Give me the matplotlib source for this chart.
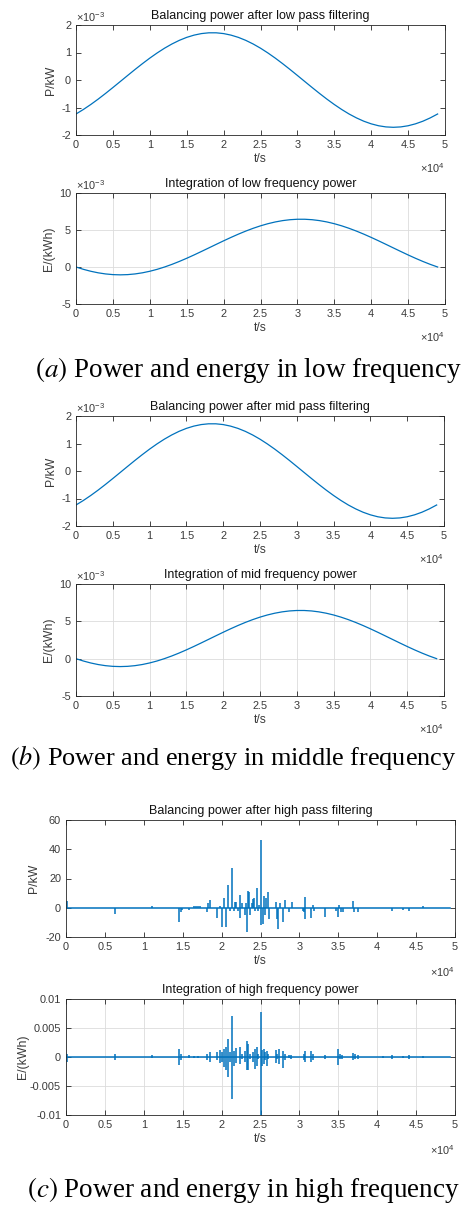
import numpy as np
import matplotlib
matplotlib.use("Agg")
import matplotlib.pyplot as plt
from matplotlib.ticker import FuncFormatter

plt.rcParams['font.family'] = ['Liberation Sans', 'DejaVu Sans']
plt.rcParams['axes.unicode_minus'] = False
plt.rcParams['mathtext.fontset'] = 'custom'
plt.rcParams['mathtext.rm'] = 'Liberation Sans'
plt.rcParams['mathtext.it'] = 'Liberation Sans:italic'

# ---------------- data ----------------
t_smooth = [0, 1000, 2000, 3000, 4000, 5000, 6000, 7000, 8000, 9000, 10000,
            11000, 12000, 13000, 14000, 15000, 16000, 17000, 18000, 19000, 20000,
            21000, 22000, 23000, 24000, 25000, 26000, 27000, 28000, 29000, 30000,
            31000, 32000, 33000, 34000, 35000, 36000, 37000, 38000, 39000, 40000,
            41000, 42000, 43000, 44000, 45000, 46000, 47000, 48000, 49000]

# power after low / mid pass filtering (x1e-3 kW)
p_low = [-1.236, -1.072, -0.891, -0.696, -0.489, -0.274, -0.055, 0.165, 0.383, 0.594,
         0.796, 0.984, 1.157, 1.310, 1.442, 1.550, 1.632, 1.688, 1.716, 1.716,
         1.688, 1.632, 1.550, 1.442, 1.310, 1.157, 0.984, 0.796, 0.594, 0.383,
         0.165, -0.055, -0.274, -0.489, -0.696, -0.891, -1.072, -1.236, -1.378, -1.499,
         -1.594, -1.664, -1.706, -1.720, -1.706, -1.664, -1.594, -1.499, -1.378, -1.236]
p_mid = list(p_low)

# integrated energy (x1e-3 kWh)
e_low = [0.000, -0.314, -0.576, -0.785, -0.937, -1.029, -1.060, -1.029, -0.937, -0.785,
         -0.576, -0.314, 0.000, 0.356, 0.751, 1.178, 1.630, 2.100, 2.579, 3.061,
         3.537, 3.998, 4.439, 4.851, 5.228, 5.563, 5.851, 6.087, 6.268, 6.391,
         6.452, 6.452, 6.391, 6.268, 6.087, 5.851, 5.563, 5.228, 4.851, 4.439,
         3.998, 3.537, 3.061, 2.579, 2.100, 1.630, 1.178, 0.751, 0.356, 0.000]
e_mid = list(e_low)

# high pass power spikes (t in s, value in kW)
hp_t = [100, 6341, 11054, 14482, 14824, 14953, 15767, 16452, 16752, 16967, 17181,
        18123, 18200, 18466, 19366, 19752, 20051, 20351, 20608, 20780, 21037,
        21380, 21551, 21723, 21894, 22065, 22322, 22365, 22665, 23008, 23179,
        23308, 23393, 23565, 23693, 23864, 24036, 24207, 24336, 24507, 24678,
        24850, 25021, 25107, 25279, 25450, 25621, 25750, 25964, 26050, 26992,
        27121, 27292, 27464, 27849, 28192, 28706, 29006, 30463, 30591, 30720,
        30763, 31448, 31705, 31920, 33290, 34747, 34962, 35133, 35347, 35604,
        36889, 37061, 37489, 40703, 41945, 43316, 44088, 45887]
hp_v = [4.6, -4.0, 1.0, -9.6, -3.0, -1.5, -1.5, 1.0, 1.5, 1.5, 1.5,
        -3.0, 3.0, 5.0, -7.0, 1.5, -13.5, 7.0, -13.0, 15.5, -2.0,
        27.0, -2.0, 4.0, 4.0, -2.0, -7.0, 9.0, 3.0, -5.0, 3.0,
        -16.5, 11.5, 11.0, -5.0, 3.0, 6.0, 7.0, -2.0, 13.5, -2.0,
        2.0, 46.0, -11.5, -11.0, 8.0, -5.0, 7.0, 11.0, -8.0, 4.0,
        -7.5, -14.5, 3.0, -10.0, 5.0, -3.0, 4.0, -2.0, -3.0, 7.5,
        -8.0, -7.0, 2.0, -2.0, -6.0, -2.0, -6.0, 2.0, -3.0, -3.0,
        4.5, -3.0, -3.0, -0.5, -2.5, -1.5, -2.5, 1.0]

# high pass energy bursts (t in s, upper and lower excursion in x1e-3 kWh)
he_t = [100, 6341, 11054, 14482, 14824, 15767, 16452, 17000, 18123, 18466,
        19366, 19838, 20051, 20351, 20608, 20780, 21037, 21380, 21594, 21894,
        22322, 22622, 23051, 23222, 23436, 23693, 24036, 24293, 24507, 24721,
        25021, 25236, 25450, 25621, 25793, 25964, 26992, 27164, 27378, 27892,
        28192, 28706, 28963, 30548, 30720, 31448, 31791, 33290, 34962, 35262,
        35476, 36889, 37104, 37489, 40703, 41945, 43316, 44088, 45887]
he_up = [0.5, 0.6, 0.3, 1.3, 0.5, 0.3, 0.2, 0.2, 0.6, 0.8,
         0.8, 1.2, 0.8, 1.4, 1.8, 3.1, 0.8, 7.0, 1.0, 1.5,
         1.8, 0.5, 1.0, 2.8, 2.3, 0.6, 0.8, 1.4, 1.8, 0.6,
         7.7, 1.2, 1.3, 0.8, 1.0, 0.5, 1.2, 0.6, 1.4, 1.0,
         0.5, 0.3, 0.4, 0.5, 1.1, 1.0, 0.5, 0.4, 1.4, 0.5,
         0.4, 0.7, 0.5, 0.4, 0.1, 0.3, 0.2, 0.3, 0.1]
he_dn = [-0.8, -0.6, -0.1, -1.3, -0.5, -0.2, -0.1, -0.2, -0.6, -0.8,
         -0.5, -1.0, -0.8, -1.8, -2.2, -3.5, -0.8, -7.2, -1.5, -1.0,
         -1.2, -0.3, -0.8, -2.2, -2.3, -0.4, -0.8, -2.0, -1.5, -0.4,
         -10.0, -1.5, -1.2, -0.6, -1.5, -0.4, -1.0, -0.4, -1.2, -1.9,
         -0.5, -0.2, -0.3, -0.5, -0.9, -0.9, -0.5, -0.3, -1.4, -0.4,
         -0.3, -0.5, -0.4, -0.3, -0.1, -0.4, -0.2, -0.3, -0.1]

t_end = 49400

titles = ["Balancing power after low pass filtering",
          "Integration of low frequency power",
          "Balancing power after mid pass filtering",
          "Integration of mid frequency power",
          "Balancing power after high pass filtering",
          "Integration of high frequency power"]
captions = ["Power and energy in low frequency",
            "Power and energy in middle frequency",
            "Power and energy in high frequency"]
caption_letters = ["a", "b", "c"]

# ---------------- figure ----------------
W, H = 471, 1211
fig = plt.figure(figsize=(W / 100, H / 100), dpi=100)

BLUE = '#0072BD'
DARK = '#262626'
TICKC = '#3a3a3a'
TS = 7.9   # tick label size
LS = 8.8   # axis label size
TTS = 9.0  # title size

def add_axes(left, right, top, bottom):
    return fig.add_axes([left / W, 1 - bottom / H, (right - left) / W, (bottom - top) / H])

def style(ax, grid):
    ax.set_xlim(0, 50000)
    ax.set_xticks(np.arange(0, 50001, 5000))
    ax.xaxis.set_major_formatter(FuncFormatter(lambda v, p: f"{v/1e4:g}"))
    ax.tick_params(direction='in', top=True, right=True, length=3.5, width=0.6,
                   labelsize=TS, color=DARK, labelcolor=TICKC, pad=3.5)
    for s in ax.spines.values():
        s.set_linewidth(0.6)
        s.set_color(DARK)
    if grid:
        ax.grid(True, color='#dcdcdc', linewidth=0.6)
        ax.set_axisbelow(True)
    ax.set_xlabel("t/s", fontsize=LS, color=TICKC, labelpad=2)
    ax.text(1.0, -0.30, r"$\times10^{4}$", transform=ax.transAxes, ha='right', va='center',
            fontsize=TS, color=TICKC)

def exp_label(ax):
    ax.text(0.0, 1.07, r"$\times10^{-3}$", transform=ax.transAxes, ha='left', va='center',
            fontsize=TS, color=TICKC)

boxes = [(76, 445, 25, 135), (76, 445, 193, 304),
         (76, 444, 416, 526), (76, 444, 584, 696),
         (66, 455, 820, 937), (66, 455, 999, 1115)]

t_arr = np.array(t_smooth, dtype=float)
power_sets = [np.array(p_low), np.array(p_mid)]
energy_sets = [np.array(e_low), np.array(e_mid)]

for k in range(2):
    # power
    ax = add_axes(*boxes[2 * k])
    ax.plot(t_arr, power_sets[k] * 1e-3, color=BLUE, lw=0.9)
    ax.set_ylim(-2e-3, 2e-3)
    ax.set_yticks(np.arange(-2e-3, 2.01e-3, 1e-3))
    ax.yaxis.set_major_formatter(FuncFormatter(lambda v, p: f"{round(v*1e3):g}"))
    style(ax, False)
    exp_label(ax)
    ax.set_ylabel("P/kW", fontsize=LS, color=TICKC, labelpad=3)
    ax.set_title(titles[2 * k], fontsize=TTS, color='#111111', pad=4)
    # energy
    ax = add_axes(*boxes[2 * k + 1])
    ax.plot(t_arr, energy_sets[k] * 1e-3, color=BLUE, lw=0.9)
    ax.set_ylim(-5e-3, 10e-3)
    ax.set_yticks(np.arange(-5e-3, 10.01e-3, 5e-3))
    ax.yaxis.set_major_formatter(FuncFormatter(lambda v, p: f"{round(v*1e3):g}"))
    style(ax, True)
    exp_label(ax)
    ax.set_ylabel("E/(kWh)", fontsize=LS, color=TICKC, labelpad=3)
    ax.set_title(titles[2 * k + 1], fontsize=TTS, color='#111111', pad=4)

# high frequency power
ax = add_axes(*boxes[4])
ax.plot([0, t_end], [0, 0], color=BLUE, lw=1.1)
ax.vlines(hp_t, 0, hp_v, color=BLUE, lw=1.1)
ax.set_ylim(-20, 60)
ax.set_yticks(np.arange(-20, 61, 20))
ax.yaxis.set_major_formatter(FuncFormatter(lambda v, p: f"{v:g}"))
style(ax, False)
ax.set_ylabel("P/kW", fontsize=LS, color=TICKC, labelpad=4)
ax.set_title(titles[4], fontsize=TTS, color='#111111', pad=4)

# high frequency energy
ax = add_axes(*boxes[5])
ax.plot([0, t_end], [0, 0], color=BLUE, lw=1.1)
ax.vlines(he_t, np.array(he_dn) * 1e-3, np.array(he_up) * 1e-3, color=BLUE, lw=1.1)
ax.set_ylim(-0.01, 0.01)
ax.set_yticks(np.arange(-0.01, 0.0101, 0.005))
ax.yaxis.set_major_formatter(FuncFormatter(lambda v, p: f"{round(v, 4):g}"))
style(ax, True)
ax.set_ylabel("E/(kWh)", fontsize=LS, color=TICKC, labelpad=0.5)
ax.set_title(titles[5], fontsize=TTS, color='#111111', pad=4)

# captions
cap_pos = [(35, 370, 19.5), (10, 758, 18.9), (27, 1190, 19.5)]
for (x, y, fs), letter, cap in zip(cap_pos, caption_letters, captions):
    fig.text(x / W, 1 - y / H, r"$(\mathit{" + letter + r"})$ " + cap,
             ha='left', va='center', fontsize=fs, family='Liberation Serif',
             math_fontfamily='stix', color='black')

fig.savefig("out.png", dpi=100)
